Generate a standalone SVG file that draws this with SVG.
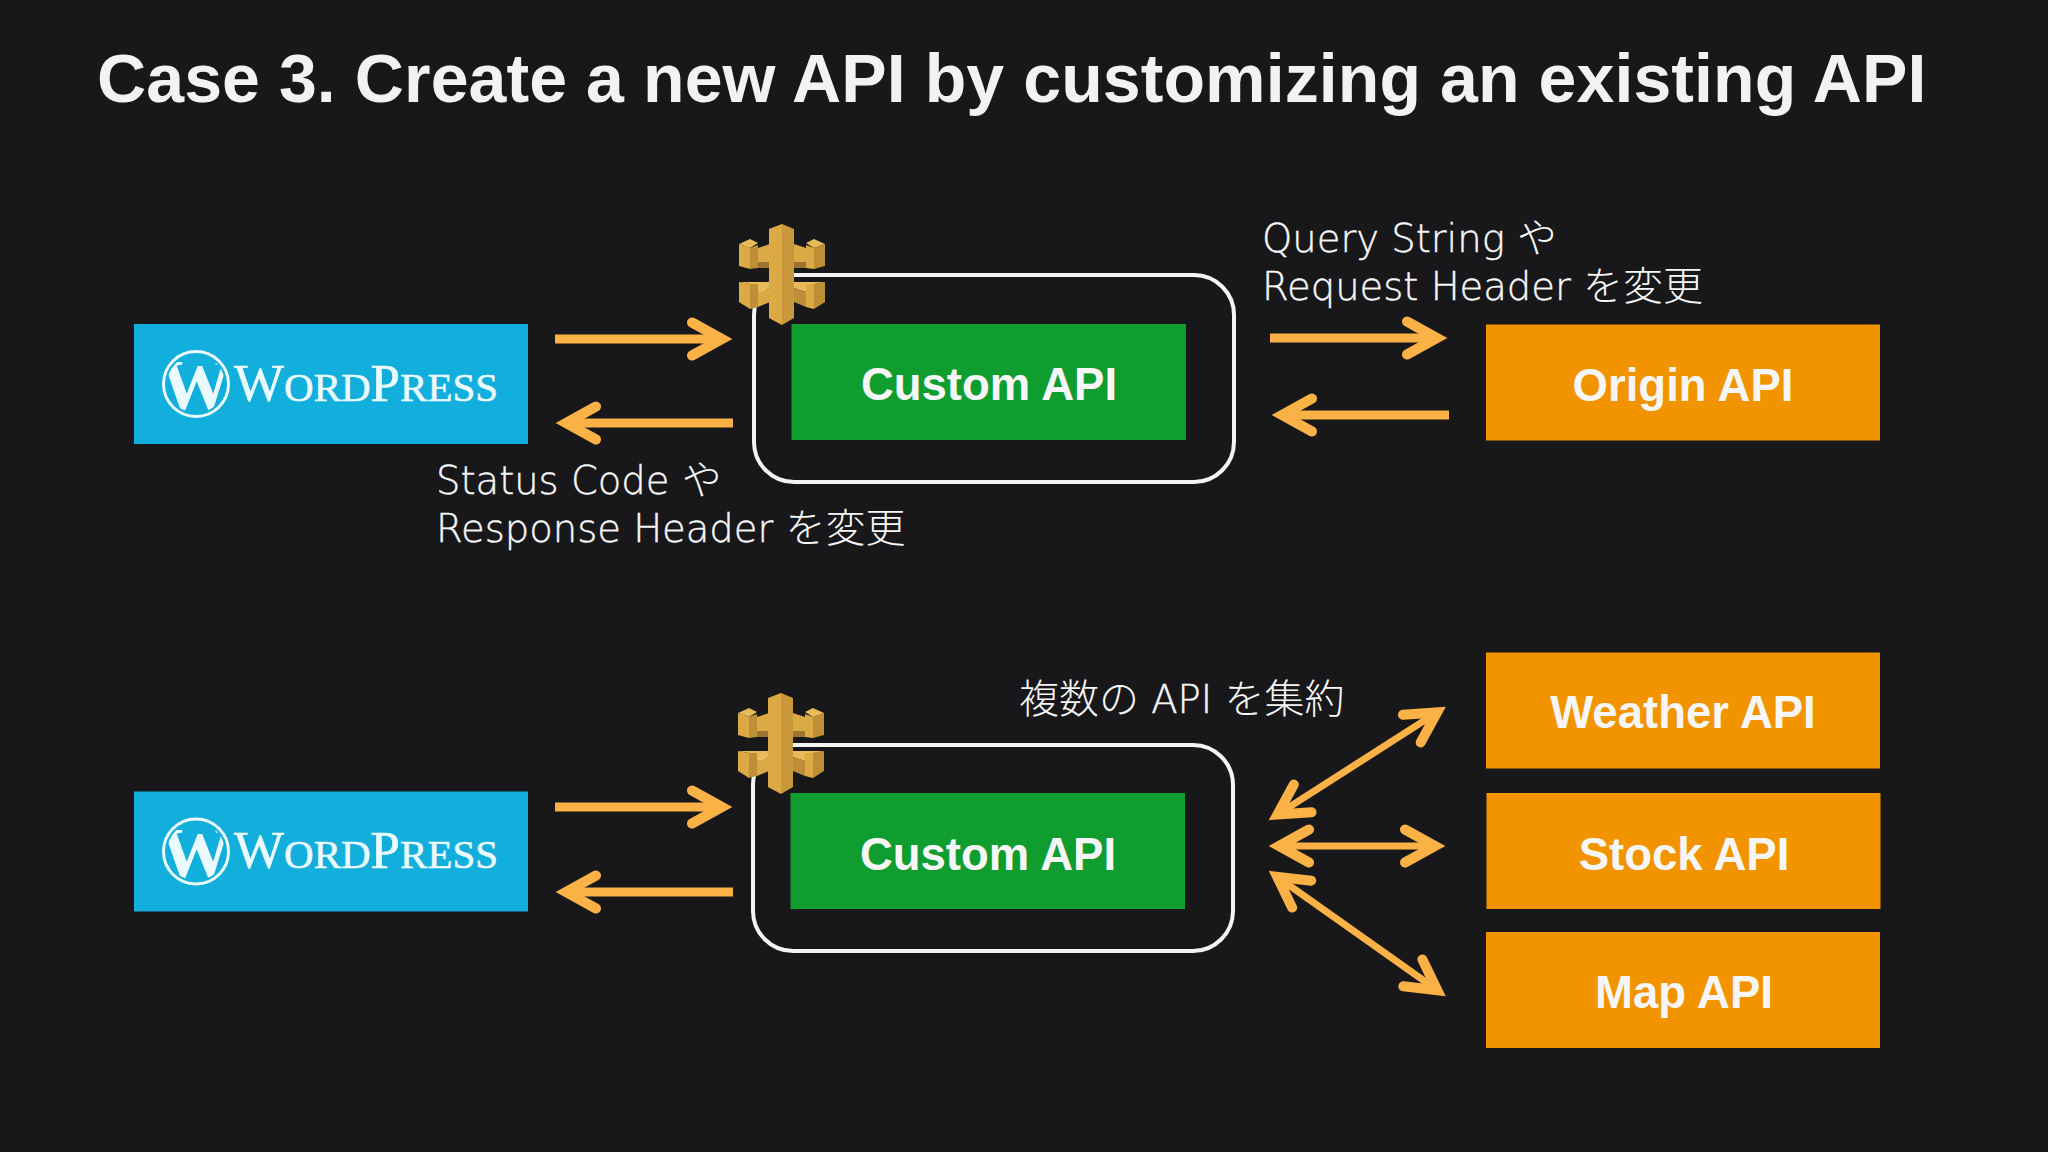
<svg xmlns="http://www.w3.org/2000/svg" xmlns:xlink="http://www.w3.org/1999/xlink" width="2048" height="1152" viewBox="0 0 2048 1152">
<style>
.t{font-family:"Liberation Sans",Arial,sans-serif;font-weight:700;fill:#f6f6f6;text-anchor:middle;font-size:45.500px}
.l{font-family:"DejaVu Sans","Noto Sans CJK JP",sans-serif;font-weight:200;fill:#f6f6f6;stroke:#f6f6f6;stroke-width:.4;font-size:38.500px}
.j{font-family:"Noto Sans CJK JP",sans-serif;font-weight:300;font-size:40px;stroke-width:0}
.w{font-family:"Liberation Serif",serif;fill:#eafaff}
.a{fill:none;stroke:#fab247;stroke-width:9;marker-end:url(#h)}
.b{fill:none;stroke:#fab247;stroke-width:7;marker-end:url(#h);marker-start:url(#h)}
.c{fill:none;stroke:#f4f4f4;stroke-width:4}
.g1{fill:#dcaa45}.g2{fill:#bf8f38}.g3{fill:#e8bb5a}.g4{fill:#9a7430}
</style>
<defs>
<marker id="h" markerUnits="userSpaceOnUse" markerWidth="80" markerHeight="80" viewBox="-50 -40 80 80" refX="0" refY="0" orient="auto-start-reverse" overflow="visible">
<path d="M-30-16.500L0 0L-30 16.500" fill="none" stroke="#fab247" stroke-width="10" stroke-linecap="round"/>
</marker>
<g id="gw">
<path class="g1" d="M739 244L750 248V269L739 266Z"/>
<path class="g2" d="M750 248L758 245V268L750 269Z"/>
<path class="g3" d="M739 244L750 239L758 243L750 248Z"/>
<path class="g1" d="M758 248L770 244V262H758Z"/>
<path class="g4" d="M758 262H770V268H758Z"/>
<path class="g1" d="M739 282L750 284V309L739 302Z"/>
<path class="g2" d="M750 284H758V307L750 309Z"/>
<path class="g3" d="M739 282H770V288L758 292V284H750Z"/>
<path class="g1" d="M758 292L770 288V302L758 307Z"/>
<path class="g2" d="M825 244L814 248V269L825 266Z"/>
<path class="g1" d="M814 248L806 245V268L814 269Z"/>
<path class="g3" d="M825 244L814 239L806 243L814 248Z"/>
<path class="g1" d="M806 248L794 244V262H806Z"/>
<path class="g4" d="M806 262H794V268H806Z"/>
<path class="g2" d="M825 282L814 284V309L825 302Z"/>
<path class="g1" d="M814 284H806V307L814 309Z"/>
<path class="g3" d="M825 282H794V288L806 292V284H814Z"/>
<path class="g2" d="M806 292L794 288V302L806 307Z"/>
<path class="g1" d="M769 229L782 224V325L769 318Z"/>
<path fill="#c9983b" d="M794 229L782 224V325L794 318Z"/>
</g>
<clipPath id="disc"><circle cx="196" cy="384" r="29"/></clipPath>
<g id="wp">
<circle cx="196" cy="384" r="32.500" fill="none" stroke="#eafaff" stroke-width="3"/>
<g clip-path="url(#disc)"><text class="w" x="196" y="409" font-size="72" font-weight="700" text-anchor="middle">W</text></g>
<text class="w" x="234" y="400.500" font-size="53" stroke="#eafaff" stroke-width=".6">W<tspan font-size="41">ORD</tspan>P<tspan font-size="41">RESS</tspan></text>
</g>
</defs>
<rect width="2048" height="1152" fill="#18181a"/>
<g id="title"><text x="97" y="102" font-family="'Liberation Sans',Arial,sans-serif" font-weight="700" font-size="68" letter-spacing=".1" fill="#f2f2f2">Case 3. Create a new API by customizing an existing API</text></g>
<g id="connectors">
<path class="a" d="M555 339H722"/>
<path class="a" d="M733 423H566"/>
<path class="a" d="M1270 338H1437"/>
<path class="a" d="M1449 415H1282"/>
<path class="a" d="M555 807H722"/>
<path class="a" d="M733 892H566"/>
<path class="b" d="M1277.400 814.600L1437.100 712.400"/>
<path class="b" d="M1279 846H1435"/>
<path class="b" d="M1277.200 876.800L1437.300 990.200"/>
</g>
<g id="wordpress-1"><rect x="134" y="324" width="394" height="120" fill="#12aedc"/><use href="#wp"/></g>
<g id="custom-1"><rect class="c" x="754" y="275" width="480" height="207" rx="40"/><rect x="791.500" y="324" width="394.500" height="116" fill="#0f9d2f"/><text class="t" x="989" y="400">Custom API</text><use href="#gw"/></g>
<g id="origin"><rect x="1486" y="324.500" width="394" height="116" fill="#f29400"/><text class="t" x="1683" y="401">Origin API</text></g>
<g id="label-1"><text class="l" x="1262" y="252">Query String <tspan class="j">や</tspan></text><text class="l" x="1262" y="300">Request Header <tspan class="j">を変更</tspan></text></g>
<g id="label-2"><text class="l" x="436" y="494">Status Code <tspan class="j">や</tspan></text><text class="l" x="436" y="542">Response Header <tspan class="j">を変更</tspan></text></g>
<g id="wordpress-2"><rect x="134" y="791.500" width="394" height="120" fill="#12aedc"/><use href="#wp" y="467.500"/></g>
<g id="custom-2"><rect class="c" x="753" y="745" width="480" height="206" rx="40"/><rect x="790.500" y="793" width="394.500" height="116" fill="#0f9d2f"/><text class="t" x="988" y="870">Custom API</text><use href="#gw" x="-1" y="469"/></g>
<g id="label-3"><text class="l" x="1019" y="713"><tspan class="j">複数の</tspan> API <tspan class="j">を集約</tspan></text></g>
<g id="weather"><rect x="1486" y="652.500" width="394" height="116" fill="#f29400"/><text class="t" x="1683" y="728">Weather API</text></g>
<g id="stock"><rect x="1486.500" y="793" width="394" height="116" fill="#f29400"/><text class="t" x="1684" y="870">Stock API</text></g>
<g id="map"><rect x="1486" y="932" width="394" height="116" fill="#f29400"/><text class="t" x="1684" y="1008">Map API</text></g>
</svg>
